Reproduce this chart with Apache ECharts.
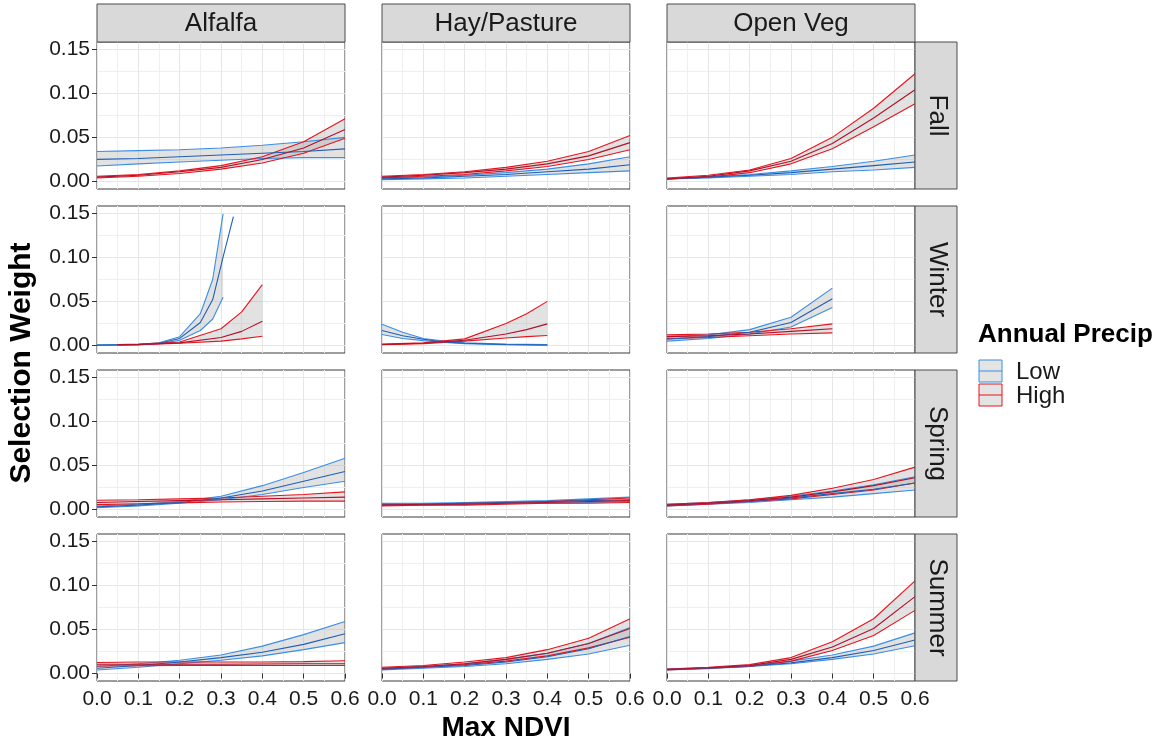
<!DOCTYPE html>
<html>
<head>
<meta charset="utf-8">
<script src="https://cdn.jsdelivr.net/npm/echarts@6/dist/echarts.min.js"></script>
<style>
  html, body { margin: 0; padding: 0; background: #fff; }
  #chart { width: 1161px; height: 744px; }
</style>
</head>
<body>
<div id="chart"></div>
<script>
// facets and labels
var covers = ['Alfalfa', 'Hay/Pasture', 'Open Veg'];
var seasons = ['Fall', 'Winter', 'Spring', 'Summer'];
var precipLevels = ['Low', 'High'];
var yTicks = [0, 0.05, 0.10, 0.15];
var yMinor = [0.025, 0.075, 0.125];

var xFull = [0, 0.1, 0.2, 0.3, 0.4, 0.5, 0.6];

// each band: x, lower, mean, upper (xm = x of the mean line when it differs)
var fallAlfalfaLow = { x: xFull,
  lo: [0.0175, 0.020, 0.022, 0.024, 0.026, 0.027, 0.027],
  mid: [0.025, 0.026, 0.028, 0.030, 0.032, 0.034, 0.037],
  hi: [0.034, 0.035, 0.036, 0.038, 0.041, 0.045, 0.050] };
var fallAlfalfaHigh = { x: xFull,
  lo: [0.004, 0.006, 0.009, 0.014, 0.021, 0.032, 0.049],
  mid: [0.005, 0.007, 0.011, 0.016, 0.025, 0.038, 0.059],
  hi: [0.006, 0.008, 0.012, 0.018, 0.028, 0.045, 0.071] };
var fallHayLow = { x: xFull,
  lo: [0.002, 0.003, 0.004, 0.006, 0.008, 0.010, 0.012],
  mid: [0.003, 0.004, 0.006, 0.008, 0.011, 0.014, 0.019],
  hi: [0.004, 0.005, 0.007, 0.010, 0.014, 0.020, 0.028] };
var fallHayHigh = { x: xFull,
  lo: [0.004, 0.006, 0.008, 0.012, 0.017, 0.025, 0.036],
  mid: [0.005, 0.007, 0.010, 0.014, 0.020, 0.029, 0.044],
  hi: [0.006, 0.008, 0.011, 0.016, 0.023, 0.034, 0.052] };
var fallOpenLow = { x: xFull,
  lo: [0.003, 0.004, 0.006, 0.008, 0.011, 0.013, 0.016],
  mid: [0.003, 0.005, 0.007, 0.010, 0.014, 0.018, 0.022],
  hi: [0.003, 0.005, 0.008, 0.012, 0.017, 0.023, 0.030] };
var fallOpenHigh = { x: xFull,
  lo: [0.003, 0.005, 0.010, 0.020, 0.037, 0.062, 0.088],
  mid: [0.003, 0.006, 0.012, 0.023, 0.043, 0.072, 0.104],
  hi: [0.004, 0.007, 0.013, 0.026, 0.050, 0.083, 0.122] };

var winterAlfalfaLow = { x: [0, 0.1, 0.15, 0.2, 0.25, 0.28, 0.305],
  lo: [0.0003, 0.0008, 0.002, 0.006, 0.017, 0.030, 0.0546],
  hi: [0.0005, 0.001, 0.003, 0.010, 0.036, 0.075, 0.149],
  xm: [0, 0.1, 0.15, 0.2, 0.25, 0.28, 0.305, 0.33],
  mid: [0.0004, 0.001, 0.0025, 0.008, 0.026, 0.052, 0.100, 0.146] };
var winterAlfalfaHigh = { x: [0.05, 0.1, 0.2, 0.3, 0.35, 0.4],
  lo: [0.0008, 0.001, 0.0025, 0.005, 0.0075, 0.0105],
  mid: [0.001, 0.0012, 0.003, 0.009, 0.016, 0.0275],
  hi: [0.001, 0.0015, 0.004, 0.019, 0.038, 0.069] };
var winterHayLow = { x: [0, 0.05, 0.1, 0.15, 0.2, 0.3, 0.4],
  lo: [0.0125, 0.008, 0.0055, 0.0035, 0.002, 0.0009, 0.0003],
  mid: [0.017, 0.011, 0.007, 0.004, 0.0025, 0.0012, 0.0006],
  hi: [0.024, 0.015, 0.008, 0.005, 0.003, 0.0015, 0.001] };
var winterHayHigh = { x: [0, 0.1, 0.2, 0.3, 0.35, 0.4],
  lo: [0.001, 0.002, 0.005, 0.0085, 0.010, 0.0113],
  mid: [0.0012, 0.0025, 0.006, 0.013, 0.018, 0.0245],
  hi: [0.0015, 0.003, 0.0075, 0.025, 0.036, 0.050] };
var winterOpenLow = { x: [0, 0.1, 0.2, 0.3, 0.4],
  lo: [0.005, 0.008, 0.013, 0.021, 0.043],
  mid: [0.007, 0.010, 0.015, 0.026, 0.053],
  hi: [0.010, 0.012, 0.018, 0.032, 0.065] };
var winterOpenHigh = { x: [0, 0.1, 0.2, 0.3, 0.4],
  lo: [0.008, 0.009, 0.011, 0.013, 0.0143],
  mid: [0.010, 0.011, 0.013, 0.016, 0.019],
  hi: [0.012, 0.013, 0.015, 0.019, 0.0245] };

var springAlfalfaLow = { x: xFull,
  lo: [0.002, 0.004, 0.007, 0.011, 0.017, 0.025, 0.032],
  mid: [0.003, 0.005, 0.008, 0.013, 0.021, 0.032, 0.043],
  hi: [0.004, 0.006, 0.009, 0.015, 0.027, 0.042, 0.058] };
var springAlfalfaHigh = { x: xFull,
  lo: [0.0055, 0.0065, 0.0075, 0.0085, 0.009, 0.0095, 0.0095],
  mid: [0.008, 0.009, 0.010, 0.011, 0.012, 0.013, 0.014],
  hi: [0.0105, 0.011, 0.012, 0.013, 0.015, 0.017, 0.020] };
var springHayLow = { x: xFull,
  lo: [0.005, 0.005, 0.006, 0.007, 0.007, 0.008, 0.009],
  mid: [0.006, 0.006, 0.007, 0.008, 0.009, 0.010, 0.011],
  hi: [0.007, 0.007, 0.008, 0.009, 0.010, 0.012, 0.014] };
var springHayHigh = { x: xFull,
  lo: [0.004, 0.005, 0.005, 0.006, 0.007, 0.007, 0.008],
  mid: [0.005, 0.006, 0.006, 0.007, 0.008, 0.009, 0.010],
  hi: [0.006, 0.006, 0.007, 0.008, 0.009, 0.011, 0.013] };
var springOpenLow = { x: xFull,
  lo: [0.004, 0.006, 0.008, 0.011, 0.014, 0.018, 0.022],
  mid: [0.005, 0.007, 0.009, 0.013, 0.018, 0.023, 0.030],
  hi: [0.006, 0.008, 0.011, 0.015, 0.021, 0.028, 0.037] };
var springOpenHigh = { x: xFull,
  lo: [0.004, 0.006, 0.009, 0.012, 0.017, 0.022, 0.030],
  mid: [0.005, 0.007, 0.010, 0.014, 0.020, 0.027, 0.036],
  hi: [0.006, 0.008, 0.011, 0.016, 0.024, 0.034, 0.048] };

var summerAlfalfaLow = { x: xFull,
  lo: [0.004, 0.007, 0.011, 0.015, 0.020, 0.027, 0.035],
  mid: [0.006, 0.009, 0.013, 0.018, 0.024, 0.033, 0.045],
  hi: [0.008, 0.011, 0.015, 0.021, 0.031, 0.044, 0.059] };
var summerAlfalfaHigh = { x: xFull,
  lo: [0.0085, 0.0088, 0.009, 0.009, 0.009, 0.009, 0.009],
  mid: [0.0105, 0.0105, 0.0105, 0.0105, 0.0108, 0.011, 0.011],
  hi: [0.0125, 0.013, 0.013, 0.013, 0.013, 0.0135, 0.0145] };
var summerHayLow = { x: xFull,
  lo: [0.004, 0.006, 0.008, 0.011, 0.016, 0.022, 0.032],
  mid: [0.005, 0.007, 0.009, 0.013, 0.019, 0.028, 0.042],
  hi: [0.006, 0.008, 0.011, 0.016, 0.023, 0.034, 0.052] };
var summerHayHigh = { x: xFull,
  lo: [0.005, 0.007, 0.010, 0.014, 0.020, 0.029, 0.041],
  mid: [0.006, 0.008, 0.011, 0.016, 0.023, 0.034, 0.051],
  hi: [0.007, 0.009, 0.013, 0.018, 0.027, 0.040, 0.062] };
var summerOpenLow = { x: xFull,
  lo: [0.004, 0.0055, 0.008, 0.011, 0.016, 0.022, 0.0315],
  mid: [0.0045, 0.006, 0.0085, 0.012, 0.018, 0.026, 0.038],
  hi: [0.005, 0.0065, 0.009, 0.014, 0.021, 0.031, 0.046] };
var summerOpenHigh = { x: xFull,
  lo: [0.004, 0.006, 0.008, 0.014, 0.026, 0.043, 0.0715],
  mid: [0.0045, 0.0065, 0.009, 0.016, 0.030, 0.051, 0.087],
  hi: [0.005, 0.007, 0.010, 0.018, 0.036, 0.062, 0.105] };

// rows = seasons, cols = covers, [Low, High]
var panels = [
  [[fallAlfalfaLow, fallAlfalfaHigh], [fallHayLow, fallHayHigh], [fallOpenLow, fallOpenHigh]],
  [[winterAlfalfaLow, winterAlfalfaHigh], [winterHayLow, winterHayHigh], [winterOpenLow, winterOpenHigh]],
  [[springAlfalfaLow, springAlfalfaHigh], [springHayLow, springHayHigh], [springOpenLow, springOpenHigh]],
  [[summerAlfalfaLow, summerAlfalfaHigh], [summerHayLow, summerHayHigh], [summerOpenLow, summerOpenHigh]]
];

var FONT = '"Liberation Sans", Arial, sans-serif';
var edgeColor = ['#3a8ee6', '#e8141c'];
var midColor = ['#1f5fb8', '#b3102a'];
var ribbonFill = 'rgba(150,150,150,0.28)';

var colLeft = [97, 382, 667];
var rowTop = [42, 206, 370, 534];
var panelW = 248, panelH = 147;
var yMin = -0.0085, yMax = 0.158;

var grids = [], xAxes = [], yAxes = [], series = [], graphics = [];

function pairs(xs, ys) {
  return xs.map(function (x, i) { return [x, ys[i]]; });
}

// grey band between lower and upper, drawn through the axes of grid gi
function ribbon(b, gi) {
  return {
    type: 'custom', xAxisIndex: gi, yAxisIndex: gi * 2, silent: true, z: 1,
    clip: true, animation: false,
    data: [[b.x[0], b.lo[0]]],
    renderItem: function (params, api) {
      var pts = [];
      for (var i = 0; i < b.x.length; i++) pts.push(api.coord([b.x[i], b.hi[i]]));
      for (var j = b.x.length - 1; j >= 0; j--) pts.push(api.coord([b.x[j], b.lo[j]]));
      return { type: 'polygon', shape: { points: pts }, style: { fill: ribbonFill } };
    }
  };
}

function line(xs, ys, gi, color, z) {
  return {
    type: 'line', xAxisIndex: gi, yAxisIndex: gi * 2, showSymbol: false, silent: true,
    animation: false, z: z, data: pairs(xs, ys),
    lineStyle: { color: color, width: 1.1 }
  };
}

for (var r = 0; r < seasons.length; r++) {
  for (var c = 0; c < covers.length; c++) {
    var gi = grids.length;
    grids.push({
      left: colLeft[c], top: rowTop[r], width: panelW, height: panelH,
      show: true, backgroundColor: '#fff', borderColor: '#3a3a3a', borderWidth: 1, z: 0
    });
    xAxes.push({
      gridIndex: gi, type: 'value', min: 0, max: 0.6, interval: 0.1,
      axisLine: { show: false },
      axisTick: { show: r === 3, length: 5, lineStyle: { color: '#333' } },
      axisLabel: { show: r === 3, fontSize: 21, fontFamily: FONT, color: '#1a1a1a', margin: 8,
        formatter: function (v) { return v.toFixed(1); } },
      splitLine: { show: true, lineStyle: { color: '#e6e6e6', width: 1 } },
      minorTick: { show: false, splitNumber: 2 },
      minorSplitLine: { show: true, lineStyle: { color: '#efefef', width: 1 } }
    });
    yAxes.push({
      gridIndex: gi, type: 'value', min: yMin, max: yMax, position: 'left',
      axisLine: { show: false },
      axisTick: { show: c === 0, length: 5, customValues: yTicks, lineStyle: { color: '#333' } },
      axisLabel: { show: c === 0, customValues: yTicks, fontSize: 21, fontFamily: FONT, color: '#1a1a1a', margin: 7,
        formatter: function (v) { return v.toFixed(2); } },
      splitLine: { show: true, lineStyle: { color: '#e6e6e6', width: 1 } }
    });
    yAxes.push({
      gridIndex: gi, type: 'value', min: yMin, max: yMax, position: 'right',
      axisLine: { show: false },
      axisTick: { show: false, customValues: yMinor },
      axisLabel: { show: false },
      splitLine: { show: true, lineStyle: { color: '#efefef', width: 1 } }
    });

    for (var g = 0; g < 2; g++) {
      var b = panels[r][c][g];
      series.push(ribbon(b, gi));
      series.push(line(b.x, b.lo, gi, edgeColor[g], 2));
      series.push(line(b.x, b.hi, gi, edgeColor[g], 2));
      series.push(line(b.xm || b.x, b.mid, gi, midColor[g], 3));
    }
  }
}

// strips
for (var c2 = 0; c2 < covers.length; c2++) {
  graphics.push({ type: 'rect', shape: { x: colLeft[c2], y: 4, width: panelW, height: 38 },
    style: { fill: '#d9d9d9', stroke: '#4a4a4a', lineWidth: 1 }, z: 10 });
  graphics.push({ type: 'text', x: colLeft[c2] + panelW / 2, y: 24, z: 11,
    style: { text: covers[c2], font: '26px ' + FONT, fill: '#1a1a1a', textAlign: 'center', textVerticalAlign: 'middle' } });
}
for (var r2 = 0; r2 < seasons.length; r2++) {
  graphics.push({ type: 'rect', shape: { x: 915, y: rowTop[r2], width: 42, height: panelH },
    style: { fill: '#d9d9d9', stroke: '#4a4a4a', lineWidth: 1 }, z: 10 });
  graphics.push({ type: 'text', x: 937, y: rowTop[r2] + panelH / 2, rotation: -Math.PI / 2, z: 11,
    style: { text: seasons[r2], font: '26px ' + FONT, fill: '#1a1a1a', textAlign: 'center', textVerticalAlign: 'middle' } });
}

// axis titles
graphics.push({ type: 'text', x: 22, y: 363, rotation: Math.PI / 2, z: 11,
  style: { text: 'Selection Weight', font: 'bold 30px ' + FONT, fill: '#000', textAlign: 'center', textVerticalAlign: 'middle' } });
graphics.push({ type: 'text', x: 506, y: 728, z: 11,
  style: { text: 'Max NDVI', font: 'bold 28px ' + FONT, fill: '#000', textAlign: 'center', textVerticalAlign: 'middle' } });

// legend
graphics.push({ type: 'text', x: 978, y: 335, z: 11,
  style: { text: 'Annual Precip', font: 'bold 26px ' + FONT, fill: '#000', textAlign: 'left', textVerticalAlign: 'middle' } });
var keyTop = [360, 384];
for (var k = 0; k < 2; k++) {
  graphics.push({ type: 'rect', shape: { x: 979, y: keyTop[k], width: 23, height: 22 },
    style: { fill: '#e4e4e4', stroke: edgeColor[k], lineWidth: 1 }, z: 11 });
  graphics.push({ type: 'line', shape: { x1: 979, y1: keyTop[k] + 11, x2: 1002, y2: keyTop[k] + 11 },
    style: { stroke: edgeColor[k], lineWidth: 1 }, z: 12 });
  graphics.push({ type: 'text', x: 1016, y: keyTop[k] + 12, z: 11,
    style: { text: precipLevels[k], font: '24px ' + FONT, fill: '#1a1a1a', textAlign: 'left', textVerticalAlign: 'middle' } });
}

var myChart = echarts.init(document.getElementById('chart'));
myChart.setOption({
  animation: false,
  grid: grids,
  xAxis: xAxes,
  yAxis: yAxes,
  series: series,
  graphic: graphics
});
</script>
</body>
</html>
